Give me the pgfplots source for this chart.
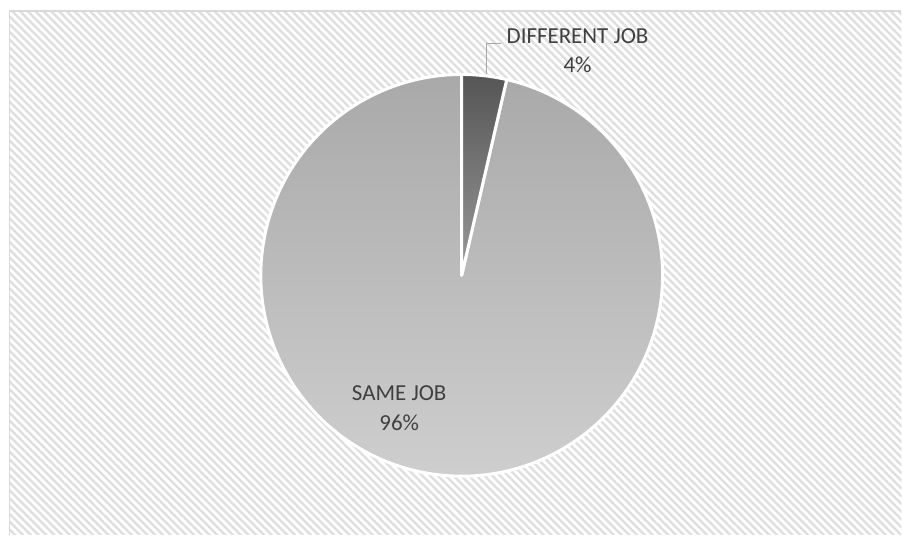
\documentclass[border=0pt]{standalone}
\usepackage{fontspec}
\setmainfont{Carlito}
\usepackage{pgfplots}
\pgfplotsset{compat=1.18}
\usepackage{pgfplotstable}
\usetikzlibrary{patterns.meta}
\definecolor{txt}{HTML}{404040}
\definecolor{hatch}{HTML}{DEDEDE}
\definecolor{frame}{HTML}{D9D9D9}
\definecolor{leader}{HTML}{A6A6A6}
\definecolor{bigtop}{HTML}{A9A9A9}
\definecolor{bigbot}{HTML}{D0D0D0}
\definecolor{smtop}{HTML}{555555}
\definecolor{smbot}{HTML}{999999}

\pgfplotstableread{
label value
DIFFERENT 3.6
SAME 96.4
}\pietable

\begin{document}
\begin{tikzpicture}
\begin{axis}[width=902bp,height=535bp,scale only axis,
  xmin=0,xmax=902,ymin=0,ymax=535,y dir=reverse,
  hide axis, clip=false]
\pgfplotstablegetelem{0}{value}\of\pietable \let\va\pgfplotsretval
\pgfplotstablegetelem{1}{value}\of\pietable \let\vb\pgfplotsretval
\pgfmathsetmacro\aS{90}
\pgfmathsetmacro\aM{90-3.6*\va}
\pgfmathsetmacro\aE{\aM-3.6*\vb}
% background
\fill[white] (axis cs:0,0) rectangle (axis cs:902,535);
\fill[pattern={Lines[angle=-45,distance=5.5bp,line width=2.3bp]}, pattern color=hatch]
  (axis cs:10,11.5) rectangle (axis cs:902,535);
\draw[frame, line width=1.3bp] (axis cs:9.5,535) -- (axis cs:9.5,11) -- (axis cs:902,11);
% slices
\path[top color=bigtop, bottom color=bigbot, draw=white, line width=3bp, line join=round]
  (axis cs:462,275.5) -- ++(\aM:201bp) arc[start angle=\aM, end angle=\aE, radius=201bp] -- cycle;
\path[top color=smtop, bottom color=smbot, draw=white, line width=3bp, line join=round]
  (axis cs:462,275.5) -- ++(\aS:201bp) arc[start angle=\aS, end angle=\aM, radius=201bp] -- cycle;
% leader line
\draw[leader, line width=1bp] (axis cs:486.5,74) -- (axis cs:486.5,43.5) -- (axis cs:501.5,43.5);
% labels
\tikzset{lbl/.style={txt, anchor=base, inner sep=0pt, font=\fontsize{23}{28}\selectfont}}
\node[lbl] at (axis cs:578,44) {DIFFERENT JOB};
\node[lbl] at (axis cs:578,73) {4\%};
\node[lbl] at (axis cs:399.5,400.5) {SAME JOB};
\node[lbl] at (axis cs:399.5,430.5) {96\%};
\end{axis}
\end{tikzpicture}
\end{document}
